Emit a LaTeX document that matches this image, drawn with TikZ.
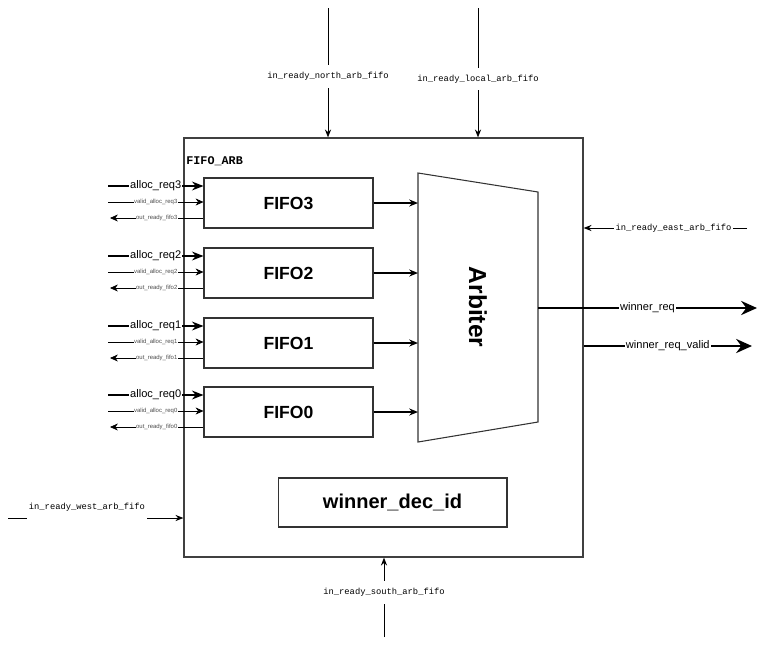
\documentclass[tikz,border=0pt]{standalone}
\usepackage{fontspec}
\setmainfont{Liberation Sans}
\setmonofont{Liberation Mono}
\usetikzlibrary{arrows.meta,positioning}

\begin{document}
\begin{tikzpicture}[x=0.02cm,y=-0.02cm,
          outer/.style={draw=black!75,line width=0.75pt,minimum width=7.98cm,minimum height=8.38cm},
          fifo/.style={draw=black!80,line width=0.6pt,minimum width=3.38cm,minimum height=1cm,font=\fontsize{10}{12}\selectfont\bfseries},
          decbox/.style={draw=black!80,line width=0.6pt,minimum width=4.58cm,minimum height=0.98cm,font=\fontsize{11.4}{13}\selectfont\bfseries},
          reqline/.style={line width=1.1pt,-{Stealth[length=6.5pt,width=5pt]}},
          vline/.style={line width=0.35pt,-{Stealth[length=4.5pt,width=4pt]}},
          fline/.style={line width=1.1pt,-{Stealth[length=5pt,width=4pt]}},
          pline/.style={line width=0.5pt,-{Stealth[length=4.5pt,width=3.5pt]}},
          wline/.style={line width=1.7pt,-{Stealth[length=9pt,width=8pt]}},
          lbl/.style={fill=white,inner sep=0.5pt,font=\fontsize{6.3}{7}\selectfont},
          tiny/.style={fill=white,inner sep=0.3pt,font=\fontsize{3.4}{4}\selectfont,text=black!70},
          port/.style={fill=white,inner sep=1pt,font=\fontsize{5}{6}\selectfont\ttfamily}]
        \useasboundingbox (0,0) rectangle (770,649);
        % outer block
        \node[outer] (arbfifo) at (383.5,347.5) {};
        \node[anchor=west,inner sep=0pt,font=\fontsize{6.7}{8}\selectfont\ttfamily\bfseries] (title) at (186,161) {FIFO\_ARB};
        % fifos
        \node[fifo] (f3) at (288.5,203) {FIFO3};
        \node[fifo] (f2) at (288.5,273) {FIFO2};
        \node[fifo] (f1) at (288.5,343) {FIFO1};
        \node[fifo] (f0) at (288.5,412) {FIFO0};
        \node[decbox] (dec) at (392.5,502.5) {winner\_dec\_id};
        % arbiter
        \coordinate (arbtl) at (418,173);
        \coordinate (arbtr) at (538,192);
        \coordinate (arbbr) at (538,422);
        \coordinate (arbbl) at (418,442);
        \draw[black!80,line width=0.6pt] (arbtl) -- (arbtr) -- (arbbr) -- (arbbl) -- cycle;
        \node[rotate=-90,font=\fontsize{14}{16}\selectfont\bfseries] (arb) at (478,307) {Arbiter};
        \coordinate (arbout) at (538,308);
        \draw[fline] (f3.east) -- (f3.east -| arbtl);
        \draw[fline] (f2.east) -- (f2.east -| arbtl);
        \draw[fline] (f1.east) -- (f1.east -| arbtl);
        \draw[fline] (f0.east) -- (f0.east -| arbtl);
        % fifo inputs
        \coordinate (a3) at (108,186); \coordinate (v3) at (108,202); \coordinate (o3) at (110,218);
        \coordinate (a2) at (108,256); \coordinate (v2) at (108,272); \coordinate (o2) at (110,288);
        \coordinate (a1) at (108,326); \coordinate (v1) at (108,342); \coordinate (o1) at (110,358);
        \coordinate (a0) at (108,395); \coordinate (v0) at (108,411); \coordinate (o0) at (110,427);
        \draw[reqline] (a3) -- (a3 -| f3.west) node[lbl,midway]{alloc\_req3};
        \draw[vline] (v3) -- (v3 -| f3.west) node[tiny,midway]{valid\_alloc\_req3};
        \draw[vline] (o3 -| f3.west) -- (o3) node[tiny,midway]{out\_ready\_fifo3};
        \draw[reqline] (a2) -- (a2 -| f2.west) node[lbl,midway]{alloc\_req2};
        \draw[vline] (v2) -- (v2 -| f2.west) node[tiny,midway]{valid\_alloc\_req2};
        \draw[vline] (o2 -| f2.west) -- (o2) node[tiny,midway]{out\_ready\_fifo2};
        \draw[reqline] (a1) -- (a1 -| f1.west) node[lbl,midway]{alloc\_req1};
        \draw[vline] (v1) -- (v1 -| f1.west) node[tiny,midway]{valid\_alloc\_req1};
        \draw[vline] (o1 -| f1.west) -- (o1) node[tiny,midway]{out\_ready\_fifo1};
        \draw[reqline] (a0) -- (a0 -| f0.west) node[lbl,midway]{alloc\_req0};
        \draw[vline] (v0) -- (v0 -| f0.west) node[tiny,midway]{valid\_alloc\_req0};
        \draw[vline] (o0 -| f0.west) -- (o0) node[tiny,midway]{out\_ready\_fifo0};
        % ready inputs
        \coordinate (north) at (328,8);
        \coordinate (local) at (478,8);
        \coordinate (east) at (747,228);
        \coordinate (south) at (384,637);
        \coordinate (west) at (8,518);
        \draw[pline] (north) -- (north |- arbfifo.north) node[port,pos=0.53,inner ysep=4pt]{in\_ready\_north\_arb\_fifo};
        \draw[pline] (local) -- (local |- arbfifo.north) node[port,pos=0.55,inner ysep=4pt]{in\_ready\_local\_arb\_fifo};
        \draw[pline] (east) -- (east -| arbfifo.east) node[port,pos=0.45]{in\_ready\_east\_arb\_fifo};
        \draw[pline] (south) -- (south |- arbfifo.south) node[port,pos=0.56,inner ysep=4pt]{in\_ready\_south\_arb\_fifo};
        \draw[pline] (west) -- (west -| arbfifo.west) node[port,pos=0.45,yshift=6pt,minimum height=17pt]{in\_ready\_west\_arb\_fifo};
        % outputs
        \coordinate (wr) at (757,308);
        \coordinate (wv) at (752,346);
        \draw[wline] (arbout) -- (wr) node[lbl,midway]{winner\_req};
        \draw[wline] (wv -| arbfifo.east) -- (wv) node[lbl,midway]{winner\_req\_valid};
      \end{tikzpicture}
\end{document}
